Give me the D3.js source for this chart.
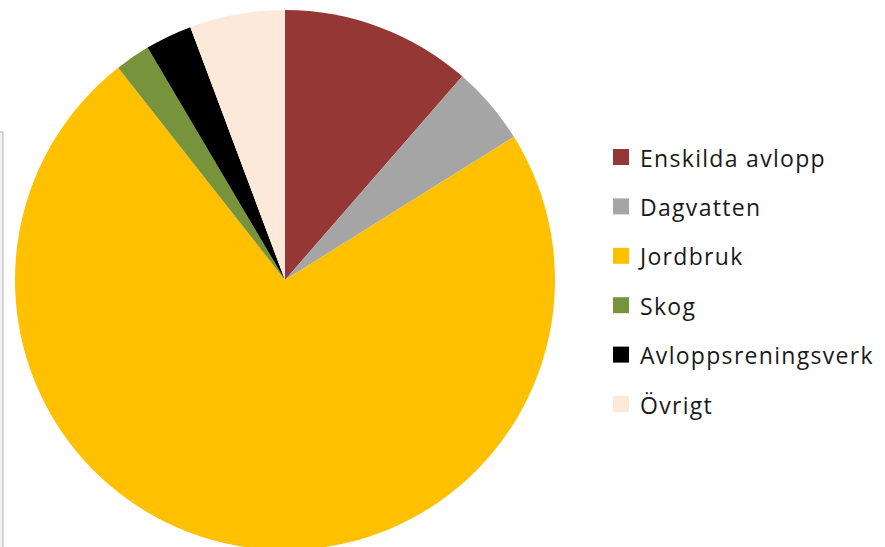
<!DOCTYPE html>
<html lang="sv">
<head>
<meta charset="UTF-8">
<title>Fosforkällor</title>
<style>
  body { margin: 0; background: #fff; }
  svg { display: block; }
  text { font-family: "Open Sans", sans-serif; fill: #1a1a1a; }
</style>
</head>
<body>
<svg width="885" height="547"></svg>
<script src="https://d3js.org/d3.v7.min.js"></script>
<script>
// Andelar (%)
const kategorier = ["Enskilda avlopp", "Dagvatten", "Jordbruk", "Skog", "Avloppsreningsverk", "Övrigt"];
const andelar = [11.4, 4.7, 73.3, 2.1, 2.8, 5.7];
const farger = ["#953735", "#a5a5a5", "#ffc000", "#77933c", "#000000", "#fde9d9"];

const svg = d3.select("svg");
const cx = 285, cy = 280, radius = 270;

// ram till vänster (rest av diagramytan)
svg.append("rect")
    .attr("x", -10).attr("y", 132)
    .attr("width", 13).attr("height", 430)
    .attr("fill", "#f2f2f2")
    .attr("stroke", "#bfbfbf")
    .attr("stroke-width", 1.2);

const data = kategorier.map((k, i) => ({ namn: k, varde: andelar[i], farg: farger[i] }));

const pie = d3.pie().value(d => d.varde).sort(null);
const arc = d3.arc().innerRadius(0).outerRadius(radius);

svg.append("g")
    .attr("transform", `translate(${cx},${cy})`)
    .selectAll("path")
    .data(pie(data))
    .join("path")
    .attr("d", arc)
    .attr("fill", d => d.data.farg);

// legend
const legend = svg.append("g").attr("transform", "translate(613,157)");
const rad = legend.selectAll("g")
    .data(data)
    .join("g")
    .attr("transform", (d, i) => `translate(0,${i * 49.4})`);

rad.append("rect")
    .attr("x", 0).attr("y", -8)
    .attr("width", 16).attr("height", 16)
    .attr("fill", d => d.farg);

rad.append("text")
    .attr("x", 27)
    .attr("y", 9.5)
    .style("font-size", "23px")
    .style("letter-spacing", "1.3px")
    .text(d => d.namn);
</script>
</body>
</html>
